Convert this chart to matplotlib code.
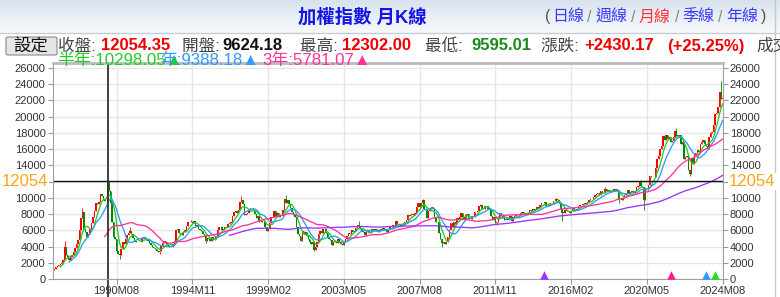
import numpy as np
import pandas as pd
import matplotlib
matplotlib.use("Agg")
import matplotlib.pyplot as plt
from matplotlib.patches import FancyBboxPatch
from matplotlib.lines import Line2D


W, H = 780, 297
FAM = ["Liberation Sans", "Noto Sans CJK TC", "DejaVu Sans"]

# Monthly closes of the TAIEX, 1987M01 .. 2024M08 (estimated from the chart)
FIRST_OPEN = 1040
CLOSE_1987 = [1150, 1260, 1450, 1650, 1700, 1850, 2000, 2400, 3900, 3000, 2600, 2340]
CLOSE_1988 = [2700, 3000, 3300, 3800, 4300, 4800, 6000, 7500, 8200, 6200, 5800, 5119]
CLOSE_1989 = [5500, 6200, 6900, 7600, 8400, 9300, 9200, 9500, 10500, 10200, 9800, 9600]
CLOSE_1990 = [9624.18, 12054.35, 10800, 9300, 7000, 5200, 4900, 3400, 3100, 3000, 3700, 4530]
CLOSE_1991 = [4300, 4900, 5400, 5700, 5900, 5500, 5000, 4700, 4600, 4500, 4500, 4600]
CLOSE_1992 = [5000, 5200, 5100, 4800, 4700, 4400, 4200, 4000, 3800, 3700, 3500, 3377]
CLOSE_1993 = [3500, 4100, 4400, 4700, 4500, 4200, 4000, 4000, 3900, 4300, 4700, 6070]
CLOSE_1994 = [6200, 5700, 5600, 5400, 5800, 6000, 6500, 7000, 7000, 7000, 6900, 7124]
CLOSE_1995 = [6500, 6700, 6200, 6000, 5900, 5600, 5400, 4700, 5000, 4900, 4700, 5173]
CLOSE_1996 = [4800, 4900, 5200, 6000, 6400, 6400, 6000, 6100, 6400, 6400, 6800, 6933]
CLOSE_1997 = [7000, 7700, 8200, 8400, 8100, 8500, 9500, 9700, 9200, 7900, 8000, 8187]
CLOSE_1998 = [8400, 8700, 8800, 8500, 8000, 7500, 7700, 7000, 7000, 7100, 7200, 6418]
CLOSE_1999 = [5900, 6100, 6900, 7600, 7600, 8400, 7600, 8100, 7600, 7800, 7700, 8448]
CLOSE_2000 = [9800, 9400, 9700, 9200, 8700, 8300, 7900, 7600, 6400, 5500, 5300, 4739]
CLOSE_2001 = [5900, 5600, 5800, 5300, 4900, 4600, 4300, 4500, 3600, 3900, 4600, 5551]
CLOSE_2002 = [5900, 5700, 6200, 6100, 5700, 5150, 4900, 4800, 4200, 4500, 4700, 4452]
CLOSE_2003 = [4900, 4500, 4300, 4200, 4600, 4900, 5300, 5700, 5600, 6000, 5800, 5890]
CLOSE_2004 = [6300, 6700, 6500, 6100, 5900, 5800, 5400, 5800, 5900, 5700, 5800, 6140]
CLOSE_2005 = [5990, 6200, 6000, 5800, 6000, 6200, 6300, 6000, 6100, 5800, 6200, 6548]
CLOSE_2006 = [6500, 6600, 6600, 7100, 6800, 6700, 6500, 6600, 6900, 7000, 7300, 7823]
CLOSE_2007 = [7700, 7900, 7900, 7900, 8100, 8900, 9300, 8900, 9400, 9700, 8600, 8506]
CLOSE_2008 = [7500, 8400, 8600, 8900, 8600, 7500, 7000, 7000, 5700, 4870, 4460, 4591]
CLOSE_2009 = [4250, 4560, 5210, 5990, 6890, 6430, 7080, 6830, 7510, 7340, 7580, 8188]
CLOSE_2010 = [7640, 7440, 7920, 8000, 7370, 7330, 7760, 7620, 8240, 8290, 8370, 8972]
CLOSE_2011 = [9145, 8600, 8680, 9000, 8990, 8650, 8640, 7740, 7225, 7590, 6900, 7072]
CLOSE_2012 = [7500, 8120, 7930, 7500, 7300, 7300, 7270, 7400, 7700, 7170, 7580, 7700]
CLOSE_2013 = [7850, 7900, 7920, 8090, 8250, 8060, 8110, 7950, 8170, 8450, 8400, 8611]
CLOSE_2014 = [8460, 8640, 8850, 8790, 9080, 9390, 9320, 9440, 8970, 8970, 9190, 9307]
CLOSE_2015 = [9360, 9620, 9590, 9820, 9700, 9320, 8660, 8170, 8180, 8550, 8320, 8338]
CLOSE_2016 = [8145, 8410, 8740, 8380, 8540, 8670, 9000, 9070, 9170, 9290, 9240, 9254]
CLOSE_2017 = [9450, 9750, 9810, 9870, 10040, 10395, 10500, 10590, 10380, 10790, 10560, 10643]
CLOSE_2018 = [11100, 10815, 10900, 10660, 10875, 10840, 11060, 10990, 11000, 9800, 9890, 9727]
CLOSE_2019 = [9930, 10390, 10640, 10970, 10500, 10730, 10820, 10620, 10830, 11360, 11490, 11997]
CLOSE_2020 = [11490, 11290, 9710, 10990, 10940, 11620, 12660, 12590, 12520, 12550, 13720, 14733]
CLOSE_2021 = [15140, 15950, 16430, 17570, 17070, 17750, 17250, 17490, 16930, 16990, 17430, 18219]
CLOSE_2022 = [17670, 17650, 17700, 16590, 16810, 14830, 15000, 15100, 13420, 12950, 14880, 14137]
CLOSE_2023 = [15260, 15500, 15870, 15580, 16580, 16920, 17140, 16630, 16350, 16000, 17430, 17930]
CLOSE_2024 = [18150, 18970, 20290, 20400, 21170, 23030, 22200, 22270]

# wicks that reach past the candle body
HIGHS = {"1987M09": 4670, "1988M09": 8790, "1990M02": 12302.00, "1991M05": 6365,
         "1994M10": 7228, "1997M08": 10256, "2000M02": 10393, "2004M03": 7135,
         "2007M10": 9859, "2011M01": 9220, "2015M04": 10014, "2018M01": 11270,
         "2020M01": 12197, "2022M01": 18619, "2024M07": 24416}
LOWS = {"1990M02": 9595.01, "1990M10": 2485, "1993M01": 3098, "1995M08": 4474,
        "2001M09": 3411, "2008M11": 3955, "2011M12": 6609, "2015M08": 7203,
        "2018M10": 9400, "2020M03": 8523, "2022M10": 12629}

MA_WINDOWS = [6, 12, 36, 120]
MA_COLORS = ["#22cc22", "#3399ff", "#ff3399", "#9933ff"]

CURSOR = "1990M02"
XTICK_LABELS = ["1990M08", "1994M11", "1999M02", "2003M05", "2007M08",
                "2011M11", "2016M02", "2020M05", "2024M08"]
SIGNALS = [("2014M08", "#9933ff"), ("2021M09", "#ff1a8c"),
           ("2023M09", "#3399ff"), ("2024M03", "#22dd22")]

UP, DOWN = "#ff0000", "#008800"


def fig_xy(x, y):
    return x / W, 1 - y / H


def put(fig, x, y, s, **kw):
    kw.setdefault("va", "center")
    kw.setdefault("family", FAM)
    fig.text(*fig_xy(x, y), s, **kw)


def header(fig):
    # title bar with a soft gradient
    bar = fig.add_axes([0, 1 - 33 / H, 1, 33 / H])
    grad = np.linspace(0, 1, 64)[:, None]
    top, bot = np.array([0.85, 0.89, 0.93]), np.array([0.97, 0.98, 0.99])
    bar.imshow(top + (bot - top) * grad[:, :, None], aspect="auto", extent=[0, 1, 0, 1])
    bar.axis("off")
    fig.add_artist(Line2D([0, 1], [1 - 33 / H] * 2, color="#c4ccd4", lw=1))
    fig.add_artist(Line2D([775 / W] * 2, [0, 1], color="#c8c8c8", lw=1))

    put(fig, 298, 17, "加權指數 月K線", color="#1414e6", fontsize=13.2, weight="bold")
    nav = [(545, "(", "#555555"), (552, "日線", "#3a3aff"), (587, "/", "#888888"),
           (596, "週線", "#3a3aff"), (631, "/", "#888888"), (639, "月線", "#ff3333"),
           (675, "/", "#888888"), (682, "季線", "#3a3aff"), (718, "/", "#888888"),
           (726, "年線", "#3a3aff"), (761, ")", "#555555")]
    for x, s, c in nav:
        put(fig, x, 17, s, color=c, fontsize=11.5)

    # settings button
    btn = FancyBboxPatch(fig_xy(6, 55), 51 / W, 18 / H, boxstyle="round,pad=0,rounding_size=0.004",
                         transform=fig.transFigure, facecolor="#e6e6e6", edgecolor="#8a8a8a", lw=0.8)
    fig.add_artist(btn)
    put(fig, 31, 46.5, "設定", ha="center", color="#111111", fontsize=12.5)

    row = [(58, "收盤: ", "#444444", "normal"), (101, "12054.35", "#ee0000", "bold"),
           (182, "開盤: ", "#444444", "normal"), (222, "9624.18", "#111111", "bold"),
           (300, "最高: ", "#444444", "normal"), (342, "12302.00", "#ee0000", "bold"),
           (425, "最低: ", "#444444", "normal"), (471, "9595.01", "#1a8a1a", "bold"),
           (541, "漲跌: ", "#444444", "normal"), (584, "+2430.17", "#ee0000", "bold"),
           (667, "(+25.25%)", "#ee0000", "bold"), (756, "成交", "#444444", "normal")]
    for x, s, c, w in row:
        put(fig, x, 46, s, color=c, fontsize=12, weight=w)

    put(fig, 57, 60, "半年:10298.05▲", color=MA_COLORS[0], fontsize=12.2)
    put(fig, 160, 60, "年:9388.18▲", color=MA_COLORS[1], fontsize=12.2)
    put(fig, 262, 60, "3年:5781.07▲", color=MA_COLORS[2], fontsize=12.2)


def main():
    closes = np.array(CLOSE_1987 + CLOSE_1988 + CLOSE_1989 + CLOSE_1990 + CLOSE_1991
                      + CLOSE_1992 + CLOSE_1993 + CLOSE_1994 + CLOSE_1995 + CLOSE_1996
                      + CLOSE_1997 + CLOSE_1998 + CLOSE_1999 + CLOSE_2000 + CLOSE_2001
                      + CLOSE_2002 + CLOSE_2003 + CLOSE_2004 + CLOSE_2005 + CLOSE_2006
                      + CLOSE_2007 + CLOSE_2008 + CLOSE_2009 + CLOSE_2010 + CLOSE_2011
                      + CLOSE_2012 + CLOSE_2013 + CLOSE_2014 + CLOSE_2015 + CLOSE_2016
                      + CLOSE_2017 + CLOSE_2018 + CLOSE_2019 + CLOSE_2020 + CLOSE_2021
                      + CLOSE_2022 + CLOSE_2023 + CLOSE_2024, dtype=float)
    months = pd.period_range("1987-01", periods=len(closes), freq="M")
    labels = [f"{p.year}M{p.month:02d}" for p in months]
    pos = {lab: i for i, lab in enumerate(labels)}

    opens = np.concatenate([[FIRST_OPEN], closes[:-1]])
    highs = np.maximum(opens, closes)
    lows = np.minimum(opens, closes)
    for k, v in HIGHS.items():
        highs[pos[k]] = v
    for k, v in LOWS.items():
        lows[pos[k]] = v
    x = np.arange(len(closes))

    fig = plt.figure(figsize=(W / 100, H / 100), dpi=100)
    header(fig)

    ax = fig.add_axes([52.5 / W, (H - 279) / H, 670.3 / W, 216 / H])
    ax.set_xlim(-0.2, len(closes) - 1 + 0.2)
    ax.set_ylim(0, 26600)

    yt = np.arange(0, 26001, 2000)
    ax.set_yticks(yt)
    # 12000 sits under the cursor price label, so it stays blank
    ax.set_yticklabels(["" if v == 12000 else str(v) for v in yt])
    ax.set_xticks([pos[l] for l in XTICK_LABELS])
    ax.set_xticklabels(XTICK_LABELS)
    ax.grid(True, color="#e6e6e6", lw=1)
    ax.set_axisbelow(True)
    ax.tick_params(axis="both", labelsize=8, colors="#999999", labelcolor="#333333",
                   length=3.5, width=0.8, pad=1.5)
    ax.tick_params(axis="y", right=True, labelright=True)
    for lab in ax.get_xticklabels() + ax.get_yticklabels():
        lab.set_family(FAM)
    for s in ["left", "right", "bottom"]:
        ax.spines[s].set_color("#a0a0a0")
    ax.spines["top"].set_color("#bbbbbb")
    ax.spines["top"].set_linewidth(2)

    up = closes >= opens
    ax.vlines(x, lows, highs, colors=np.where(up, UP, DOWN), lw=0.6)
    ax.bar(x, np.maximum(np.abs(closes - opens), 60), bottom=np.minimum(opens, closes),
           width=0.95, color=np.where(up, UP, DOWN), lw=0)

    s = pd.Series(closes)
    for n, c in zip(MA_WINDOWS, MA_COLORS):
        ax.plot(x, s.rolling(n).mean(), color=c, lw=0.95)

    for lab, c in SIGNALS:
        ax.scatter(pos[lab], 480, marker="^", s=38, color=c, lw=0, zorder=5, clip_on=False)

    # cursor cross-hair on the selected month
    ci = pos[CURSOR]
    ax.axhline(closes[ci], color="#111111", lw=1)
    ax.axvline(ci, ymin=-0.09, ymax=1, color="#333333", lw=1.3, clip_on=False)
    for xx, ha in [(48, "right"), (729, "left")]:
        put(fig, xx, 181.5, f"{closes[ci]:.0f}", ha=ha, color="#ffa31a", fontsize=12,
            bbox=dict(facecolor="white", edgecolor="none", pad=1.0))

    fig.savefig("out.png", dpi=100)


if __name__ == "__main__":
    main()
